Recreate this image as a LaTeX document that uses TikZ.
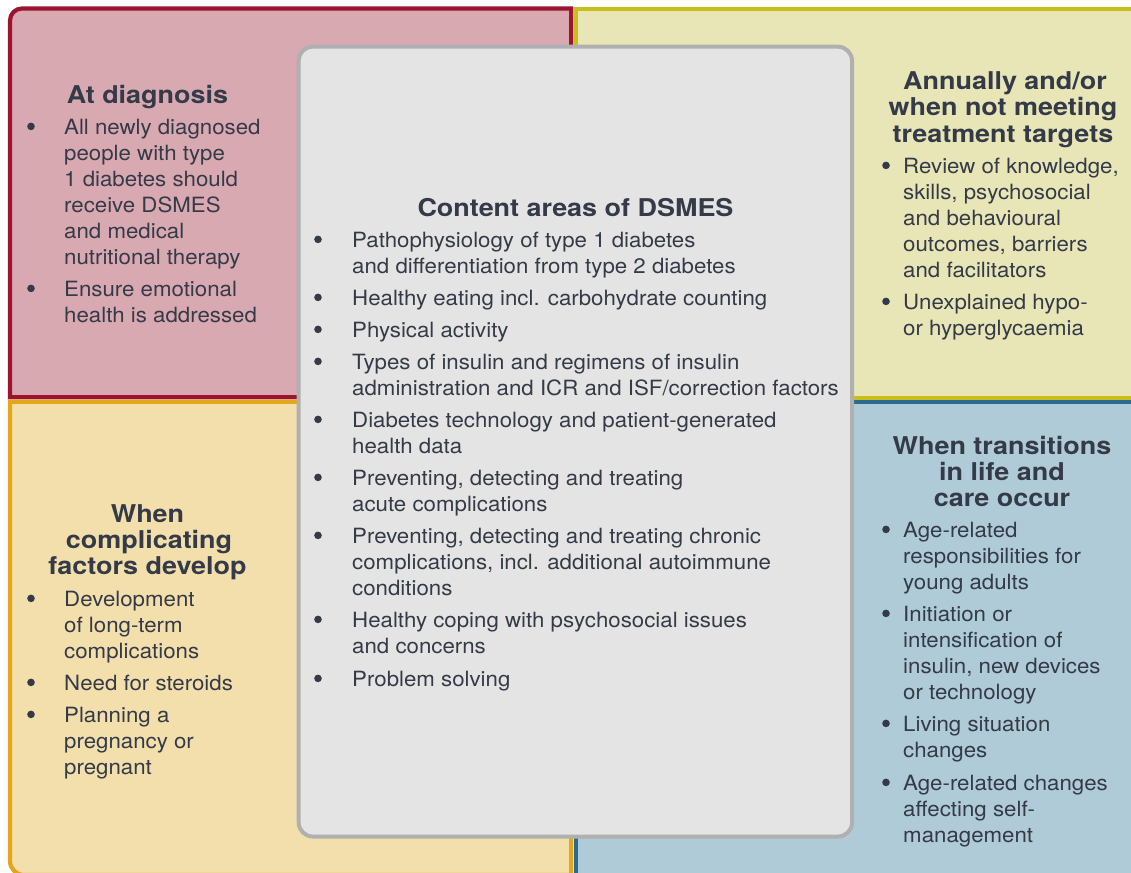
\documentclass[tikz,border=0pt]{standalone}
\usepackage{fontspec}
\setmainfont{TeX Gyre Heros}[FakeStretch=1.06]
\newfontfamily\hfont{TeX Gyre Heros}[FakeStretch=1.1]
\definecolor{ink}{HTML}{343A47}
\definecolor{redB}{HTML}{9C1530}
\definecolor{redF}{HTML}{D8A9B1}
\definecolor{yelB}{HTML}{C8BE1C}
\definecolor{yelF}{HTML}{E8E5B7}
\definecolor{golB}{HTML}{E2A71E}
\definecolor{golF}{HTML}{F3DFAB}
\definecolor{bluB}{HTML}{2A6A8E}
\definecolor{bluF}{HTML}{AFCBD7}
\definecolor{gryB}{HTML}{B0B0B0}
\definecolor{gryF}{HTML}{E4E4E4}
\tikzset{
  panel/.style={line width=4.2pt, line join=miter},
  txt/.style={anchor=base west, inner sep=0pt, text=ink, font=\fontsize{21}{26}\selectfont},
  bul/.style={circle, fill=ink, inner sep=0pt, minimum size=7.6pt, yshift=7.6pt},
  hd/.style={anchor=base, inner sep=0pt, text=ink, font=\hfont\bfseries\fontsize{24.5}{26}\selectfont},
}
\begin{document}
\begin{tikzpicture}[x=1pt,y=-1pt]
\useasboundingbox (0,0) rectangle (1131,872);
\clip (0,0) rectangle (1131,872);
% panels
\path[panel, draw=redB, fill=redF] (10,397.3) -- (10,20.5) arc[start angle=180,end angle=270,radius=12] -- (571.2,8.5) -- (571.2,397.3) -- cycle;
\path[panel, draw=yelB, fill=yelF] (575.7,397.7) -- (575.7,8.7) -- (1140,8.7) -- (1140,397.7) -- cycle;
\path[panel, draw=golB, fill=golF] (10,401.7) -- (10,861) arc[start angle=180,end angle=90,radius=14] -- (571.2,875) -- (571.2,401.7) -- cycle;
\path[panel, draw=bluB, fill=bluF] (575.7,402.2) -- (575.7,880) -- (1140,880) -- (1140,402.2) -- cycle;
\node[draw=gryB, fill=gryF, line width=4pt, rounded corners=14pt, inner sep=0pt, outer sep=0pt, minimum width=553.3pt, minimum height=789.8pt, anchor=north west] (center) at (298.7,46.7) {};

% top-left: At diagnosis
\node[hd] (tlh) at (147.5,103) {At diagnosis};
\node[bul] (tlb1) at (31,134) {};
\node[txt] (tl1) at (64,134) {All newly diagnosed};
\node[txt] (tl2) at (64,160) {people with type};
\node[txt] (tl3) at (64,186) {1 diabetes should};
\node[txt] (tl4) at (64,212) {receive DSMES};
\node[txt] (tl5) at (64,238) {and medical};
\node[txt] (tl6) at (64,264) {nutritional therapy};
\node[bul] (tlb2) at (31,296) {};
\node[txt] (tl7) at (64,296) {Ensure emotional};
\node[txt] (tl8) at (64,322) {health is addressed};

% top-right
\node[hd] (trh1) at (1005,90) {Annually and/or};
\node[hd] (trh2) at (1003,116) {when not meeting};
\node[hd] (trh3) at (1003,142) {treatment targets};
\node[bul] (trb1) at (886,173) {};
\node[txt] (tr1) at (903,173) {Review of knowledge,};
\node[txt] (tr2) at (903,199) {skills, psychosocial};
\node[txt] (tr3) at (903,225) {and behavioural};
\node[txt] (tr4) at (903,251) {outcomes, barriers};
\node[txt] (tr5) at (903,277) {and facilitators};
\node[bul] (trb2) at (886,309) {};
\node[txt] (tr6) at (903,309) {Unexplained hypo-};
\node[txt] (tr7) at (903,335) {or hyperglycaemia};

% bottom-left
\node[hd] (blh1) at (147.5,522) {When};
\node[hd] (blh2) at (149,548) {complicating};
\node[hd] (blh3) at (147.5,574) {factors develop};
\node[bul] (blb1) at (31,606) {};
\node[txt] (bl1) at (64,606) {Development};
\node[txt] (bl2) at (64,632) {of long-term};
\node[txt] (bl3) at (64,658) {complications};
\node[bul] (blb2) at (31,690) {};
\node[txt] (bl4) at (64,690) {Need for steroids};
\node[bul] (blb3) at (31,722) {};
\node[txt] (bl5) at (64,722) {Planning a};
\node[txt] (bl6) at (64,748) {pregnancy or};
\node[txt] (bl7) at (64,774) {pregnant};

% bottom-right
\node[hd] (brh1) at (1002,454) {When transitions};
\node[hd] (brh2) at (1002,480) {in life and};
\node[hd] (brh3) at (1002,506) {care occur};
\node[bul] (brb1) at (886,537) {};
\node[txt] (br1) at (903,537) {Age-related};
\node[txt] (br2) at (903,563) {responsibilities for};
\node[txt] (br3) at (903,589) {young adults};
\node[bul] (brb2) at (886,621) {};
\node[txt] (br4) at (903,621) {Initiation or};
\node[txt] (br5) at (903,647) {intensification of};
\node[txt] (br6) at (903,673) {insulin, new devices};
\node[txt] (br7) at (903,699) {or technology};
\node[bul] (brb3) at (886,731) {};
\node[txt] (br8) at (903,731) {Living situation};
\node[txt] (br9) at (903,757) {changes};
\node[bul] (brb4) at (886,790) {};
\node[txt] (br10) at (903,790) {Age-related changes};
\node[txt] (br11) at (903,816) {affecting self-};
\node[txt] (br12) at (903,842) {management};

% center
\node[hd] (ch) at (575.5,216) {Content areas of DSMES};
\node[bul] (cb1) at (318,247) {};
\node[txt] (c1) at (352,247) {Pathophysiology of type 1 diabetes};
\node[txt] (c2) at (352,273) {and differentiation from type 2 diabetes};
\node[bul] (cb2) at (318,305) {};
\node[txt] (c3) at (352,305) {Healthy eating incl. carbohydrate counting};
\node[bul] (cb3) at (318,337) {};
\node[txt] (c4) at (352,337) {Physical activity};
\node[bul] (cb4) at (318,369) {};
\node[txt] (c5) at (352,369) {Types of insulin and regimens of insulin};
\node[txt] (c6) at (352,395) {administration and ICR and ISF/correction factors};
\node[bul] (cb5) at (318,427) {};
\node[txt] (c7) at (352,427) {Diabetes technology and patient-generated};
\node[txt] (c8) at (352,453) {health data};
\node[bul] (cb6) at (318,485) {};
\node[txt] (c9) at (352,485) {Preventing, detecting and treating};
\node[txt] (c10) at (352,511) {acute complications};
\node[bul] (cb7) at (318,543) {};
\node[txt] (c11) at (352,543) {Preventing, detecting and treating chronic};
\node[txt] (c12) at (352,569) {complications, incl. additional autoimmune};
\node[txt] (c13) at (352,595) {conditions};
\node[bul] (cb8) at (318,627) {};
\node[txt] (c14) at (352,627) {Healthy coping with psychosocial issues};
\node[txt] (c15) at (352,653) {and concerns};
\node[bul] (cb9) at (318,686) {};
\node[txt] (c16) at (352,686) {Problem solving};
\end{tikzpicture}
\end{document}
